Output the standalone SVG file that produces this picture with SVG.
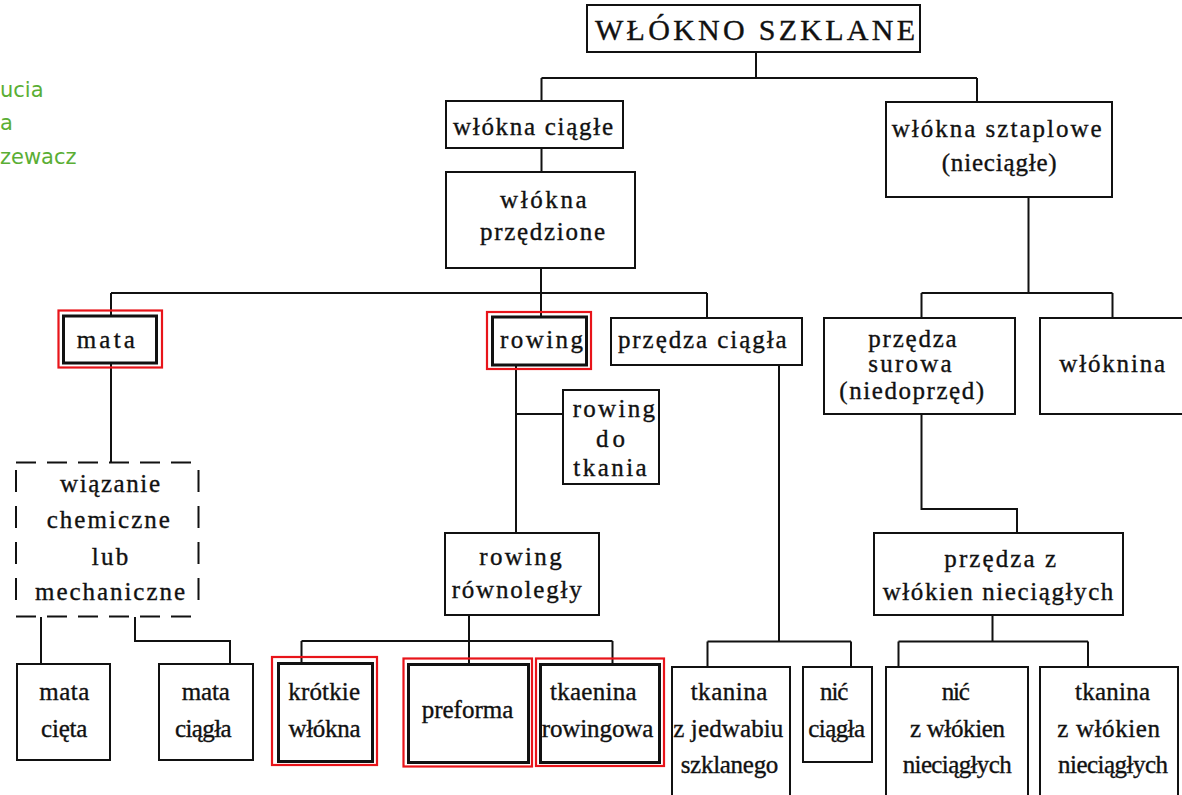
<svg xmlns="http://www.w3.org/2000/svg" width="1182" height="795" viewBox="0 0 1182 795">
<style>
.box{fill:#fff;stroke:#111;stroke-width:2}
.dbl{fill:#fff;stroke:#111;stroke-width:3}
.hl{fill:none;stroke:#e8141a;stroke-width:2.2}
.dash{stroke:#111;stroke-width:2;fill:none}
.con{stroke:#111;stroke-width:2;fill:none}
.t{font-family:'Times New Roman',Tinos,'Liberation Serif',serif;font-size:25px;fill:#111;stroke:#111;stroke-width:0.35;text-anchor:middle}
.title{font-size:30px}
.green{font-family:'DejaVu Sans','Liberation Sans',sans-serif;font-size:21px;fill:#5aae34}
</style>
<rect width="1182" height="795" fill="#fff"/>
<g id="side-note">
<text class="green" x="0" y="97">ucia</text>
<text class="green" x="0" y="130">a</text>
<text class="green" x="0" y="164">zewacz</text>
</g>
<g id="connectors">
<path class="con" d="M756,52V78M541.5,78H977M541.5,78V101M977,78V102"/>
<path class="con" d="M541.5,148V172"/>
<path class="con" d="M541,268V293M111,293H707M111,293V316M541,293V317M707,293V318"/>
<path class="con" d="M111,363V462"/>
<path class="con" d="M41,617V664M135,617V641H230V664"/>
<path class="con" d="M516,365V533M516,414H563"/>
<path class="con" d="M469,615V664M301.5,641H612.5M301.5,641V663M612.5,641V664"/>
<path class="con" d="M779,365V641.5M707.5,641.5H851M707.5,641.5V667M851,641.5V667"/>
<path class="con" d="M1028.5,197V293M921.5,293H1112.5M921.5,293V318M1112.5,293V318"/>
<path class="con" d="M921.5,414V509H1017V533"/>
<path class="con" d="M992.5,615V641.5M898.5,641.5H1088M898.5,641.5V667M1088,641.5V667"/>
</g>
<g id="n-title"><rect class="box" x="587" y="5" width="333" height="47" stroke-width="2.5"/><text class="t title" x="755" y="40" textLength="320">WŁÓKNO SZKLANE</text></g>
<g id="n-ciagle"><rect class="box" x="446" y="101" width="177" height="47"/><text class="t" x="533" y="135" textLength="160">włókna ciągłe</text></g>
<g id="n-przedzione"><rect class="box" x="446" y="172" width="189" height="96"/><text class="t" x="543.3" y="208" textLength="86.7">włókna</text><text class="t" x="542.5" y="240" textLength="125">przędzione</text></g>
<g id="n-sztaplowe"><rect class="box" x="886" y="102" width="226" height="95"/><text class="t" x="996.7" y="137" textLength="210">włókna sztaplowe</text><text class="t" x="999.2" y="171" textLength="115">(nieciągłe)</text></g>
<g id="n-mata"><rect class="dbl" x="63.5" y="316" width="93" height="47"/><rect class="hl" x="58.5" y="310.5" width="103.5" height="57"/><text class="t" x="105.8" y="348" textLength="58.3">mata</text></g>
<g id="n-wiazanie">
<path class="dash" d="M16,462.5H199M16,616.5H199" stroke-dasharray="20 11"/>
<path class="dash" d="M16,470V610M198.5,470V610" stroke-dasharray="22 14"/>
<text class="t" x="110" y="491.5" textLength="100">wiązanie</text><text class="t" x="108.3" y="528" textLength="123.3">chemiczne</text><text class="t" x="110" y="565" textLength="36.7">lub</text><text class="t" x="110" y="600" textLength="150">mechaniczne</text></g>
<g id="n-rowing"><rect class="dbl" x="492.5" y="317" width="94" height="48"/><rect class="hl" x="487" y="312" width="104" height="57"/><text class="t" x="541.5" y="348" textLength="83">rowing</text></g>
<g id="n-przedza-ciagla"><rect class="box" x="611" y="318" width="191" height="47"/><text class="t" x="702.3" y="348" textLength="168.7">przędza ciągła</text></g>
<g id="n-rowing-tkania"><rect class="box" x="563" y="390" width="96" height="94"/><text class="t" x="613.8" y="417" textLength="82.3">rowing</text><text class="t" x="610.5" y="447" textLength="29">do</text><text class="t" x="610" y="476" textLength="73.3">tkania</text></g>
<g id="n-rownolegly"><rect class="box" x="445" y="533" width="154" height="82"/><text class="t" x="520.5" y="565" textLength="82.3">rowing</text><text class="t" x="516.7" y="598" textLength="130">równoległy</text></g>
<g id="n-surowa"><rect class="box" x="824" y="318" width="191" height="96"/><text class="t" x="912.5" y="347" textLength="88.3">przędza</text><text class="t" x="910" y="372" textLength="83.3">surowa</text><text class="t" x="911.7" y="399" textLength="144.7">(niedoprzęd)</text></g>
<g id="n-wloknina"><rect class="box" x="1040" y="318" width="145" height="96"/><text class="t" x="1112.2" y="372" textLength="105.7">włóknina</text></g>
<g id="n-przedza-z"><rect class="box" x="874" y="533" width="249" height="82"/><text class="t" x="1000.2" y="567" textLength="111.7">przędza z</text><text class="t" x="998" y="600" textLength="230.7">włókien nieciągłych</text></g>
<g id="n-mata-cieta"><rect class="box" x="17" y="664" width="93" height="96"/><text class="t" x="64.3" y="700" textLength="50">mata</text><text class="t" x="64.2" y="737" textLength="46.3">cięta</text></g>
<g id="n-mata-ciagla"><rect class="box" x="159" y="664" width="94" height="96"/><text class="t" x="205.8" y="700" textLength="48.3">mata</text><text class="t" x="203.3" y="737" textLength="56.7">ciągła</text></g>
<g id="n-krotkie"><rect class="dbl" x="278.5" y="663.5" width="94" height="98"/><rect class="hl" x="272" y="657" width="105" height="108"/><text class="t" x="324.2" y="700" textLength="71.7">krótkie</text><text class="t" x="324.5" y="737" textLength="72">włókna</text></g>
<g id="n-preforma"><rect class="dbl" x="408.5" y="664.5" width="120" height="98"/><rect class="hl" x="403.5" y="658.5" width="128.5" height="108"/><text class="t" x="467.5" y="718" textLength="91.7">preforma</text></g>
<g id="n-tkaenina"><rect class="dbl" x="540.5" y="664.5" width="119" height="98"/><rect class="hl" x="536" y="658.5" width="128" height="107.5"/><text class="t" x="593.3" y="700" textLength="86.7">tkaenina</text><text class="t" x="597.5" y="737" textLength="111.7">rowingowa</text></g>
<g id="n-tkanina-jedwab"><rect class="box" x="672" y="667" width="118" height="140"/><text class="t" x="729" y="700" textLength="76.7">tkanina</text><text class="t" x="728.3" y="737" textLength="110">z jedwabiu</text><text class="t" x="729.5" y="773" textLength="97.7">szklanego</text></g>
<g id="n-nic-ciagla"><rect class="box" x="803" y="667" width="69" height="95"/><text class="t" x="834.2" y="700" textLength="28.3">nić</text><text class="t" x="836.7" y="737" textLength="56.7">ciągła</text></g>
<g id="n-nic-wlokien"><rect class="box" x="886" y="667" width="142" height="140"/><text class="t" x="955.8" y="700" textLength="28.3">nić</text><text class="t" x="957.5" y="737" textLength="95">z włókien</text><text class="t" x="957.2" y="773" textLength="109">nieciągłych</text></g>
<g id="n-tkanina-wlokien"><rect class="box" x="1040" y="667" width="138" height="140"/><text class="t" x="1112.5" y="700" textLength="75">tkanina</text><text class="t" x="1108.7" y="737" textLength="102.7">z włókien</text><text class="t" x="1113" y="773" textLength="110">nieciągłych</text></g>
</svg>
